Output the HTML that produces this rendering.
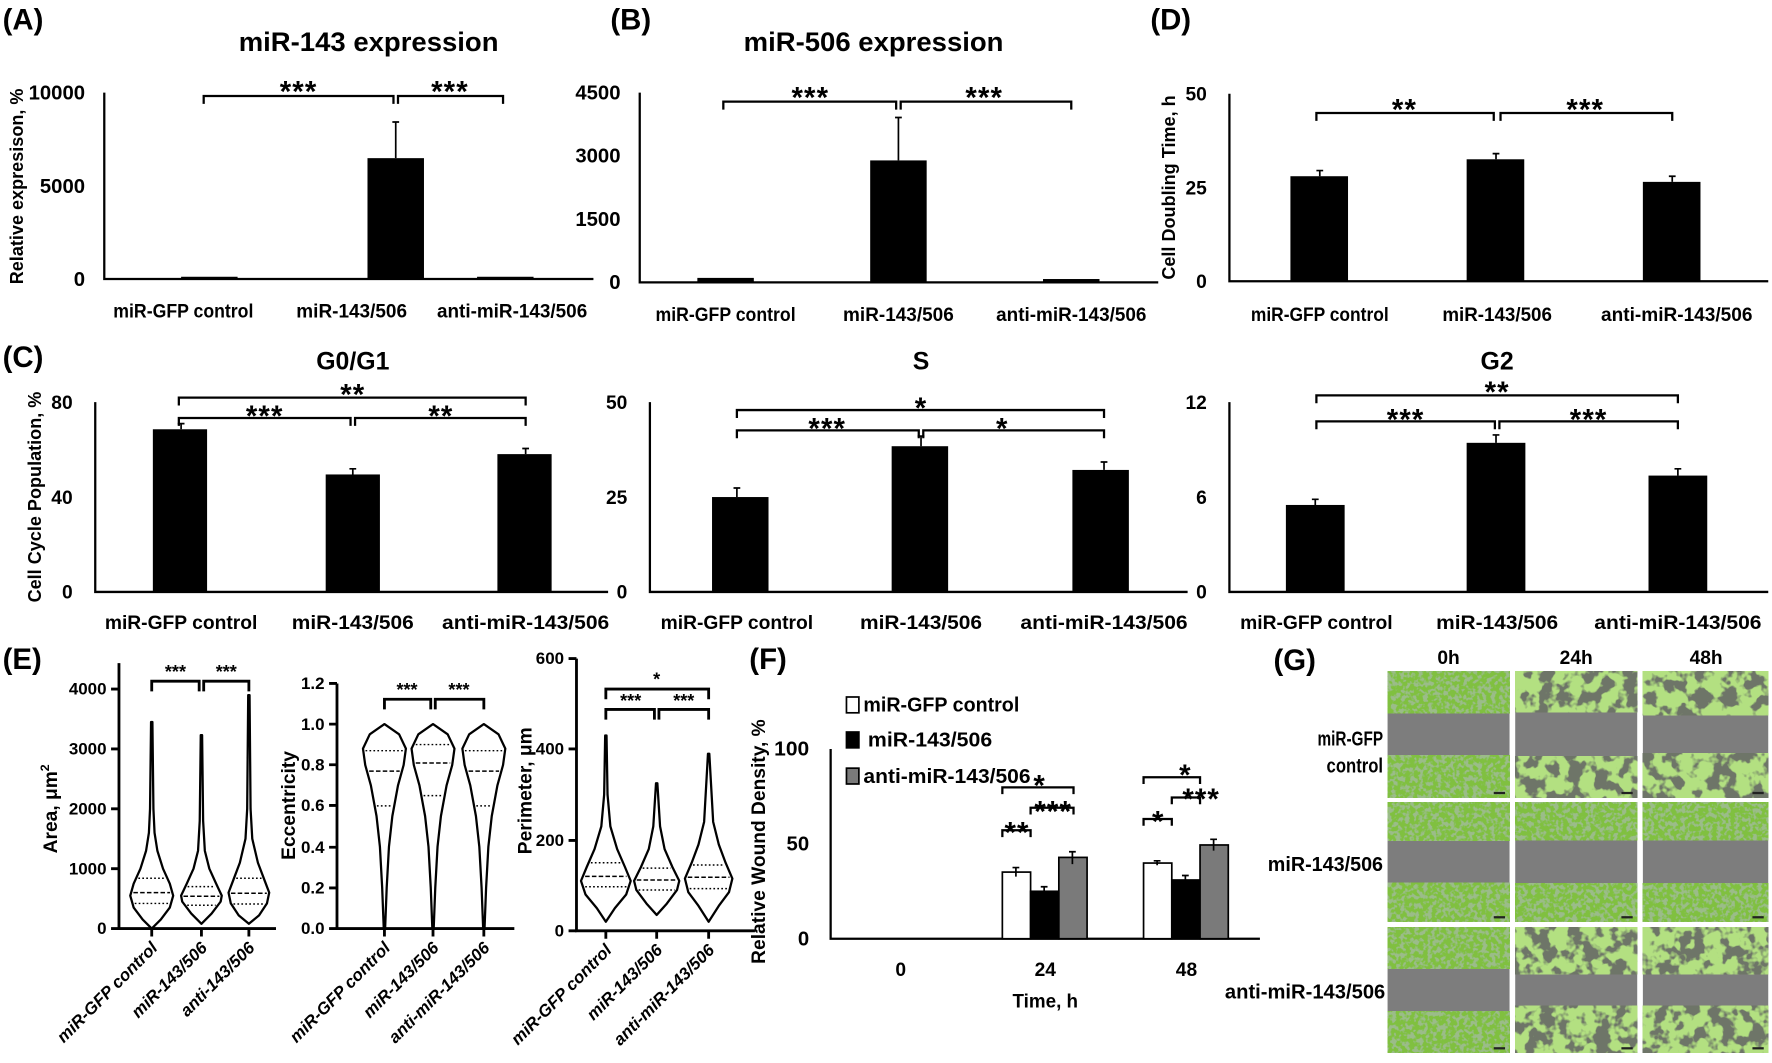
<!DOCTYPE html>
<html><head><meta charset="utf-8">
<style>
html,body{margin:0;padding:0;background:#fff;}
svg{display:block;}
text{font-family:"Liberation Sans",sans-serif;font-weight:bold;fill:#000;}
.it{font-style:italic;}
</style></head><body>
<svg id="s" width="1772" height="1063" viewBox="0 0 1568 941" xmlns="http://www.w3.org/2000/svg">
<defs>
<filter id="cells" x="0" y="0" width="100%" height="100%">
<feTurbulence type="fractalNoise" baseFrequency="0.25" numOctaves="2" seed="4" result="t"/>
<feColorMatrix in="t" type="matrix" values="0 0 0 0 0.33  0 0 0 0 0.5  0 0 0 0 0.25  0 0 0 7 -3.3" result="g"/>
<feFlood flood-color="#80c040" result="b"/>
<feComposite in="g" in2="b" operator="over"/>
</filter>
<filter id="cells2" x="0" y="0" width="100%" height="100%">
<feTurbulence type="fractalNoise" baseFrequency="0.08" numOctaves="3" seed="9" result="t"/>
<feColorMatrix in="t" type="matrix" values="0 0 0 0 0.45  0 0 0 0 0.75  0 0 0 0 0.22  0 0 0 9 -3.8" result="g"/>
<feFlood flood-color="#6e7468" result="b"/>
<feComposite in="g" in2="b" operator="over"/>
</filter>
</defs>
<g stroke="#000" stroke-width="2" fill="none">
<path d="M92 82V247H525"/>
<path d="M180 92V85H348V92M352 92V85H445V92"/>
<path d="M566 82V250H1025"/>
<path d="M640 97V90H793V97M797 97V90H948V97"/>
<path d="M1088 83V249H1565"/>
<path d="M1165 107V100H1322V107M1328 107V100H1480V107"/>
<path d="M84 356V524H538"/>
<path d="M158 359V352H465V359M158 377V370H310V377M314 377V370H465V377"/>
<path d="M575 356V524H1051"/>
<path d="M652 370V363H977V370M652 388V381H813V388M817 388V381H977V388"/>
<path d="M1088 356V524H1565"/>
<path d="M1165 357V350H1485V357M1165 380V373H1323V380M1327 380V373H1485V380"/>
<path d="M735 663V831H1115"/>
<path d="M887 741V735H912V741M912 721V715H950V721M887 703V697H950V703"/>
<path d="M1012 731V725H1037V731M1037 712V706H1062V712M1012 694V688H1062V694"/>
</g>
<g stroke="#000" stroke-width="2.5" fill="none">
<path d="M105 587V822H244"/><path d="M98 610H105M98 663H105M98 716H105M98 769H105M98 822H105"/>
<path d="M134 822V829M178 822V829M220 822V829"/>
<path d="M134 612V603H176V612M180 612V603H220V612"/>
<path d="M298 605V822H455"/><path d="M291 605H298M291 641H298M291 677H298M291 713H298M291 750H298M291 786H298M291 822H298"/>
<path d="M340 822V829M383 822V829M428 822V829"/>
<path d="M340 628V619H381V628M385 628V619H428V628"/>
<path d="M510 583V824H668"/><path d="M503 583H510M503 663H510M503 744H510M503 824H510"/>
<path d="M536 824V831M581 824V831M627 824V831"/>
<path d="M536 619V610H627V619M536 637V628H579V637M583 637V628H627V637"/>
</g>
<g id="vio" stroke="#000" fill="none"></g>
<g fill="#000">
<rect x="160" y="245" width="50" height="2"/><rect x="325" y="140" width="50" height="107"/><rect x="422" y="245" width="50" height="2"/>
<rect x="617" y="246" width="50" height="4"/><rect x="770" y="142" width="50" height="108"/><rect x="923" y="247" width="50" height="3"/>
<rect x="1142" y="156" width="51" height="93"/><rect x="1298" y="141" width="51" height="108"/><rect x="1454" y="161" width="51" height="88"/>
<rect x="135" y="380" width="48" height="144"/><rect x="288" y="420" width="48" height="104"/><rect x="440" y="402" width="48" height="122"/>
<rect x="630" y="440" width="50" height="84"/><rect x="789" y="395" width="50" height="129"/><rect x="949" y="416" width="50" height="108"/>
<rect x="1138" y="447" width="52" height="77"/><rect x="1298" y="392" width="52" height="132"/><rect x="1459" y="421" width="52" height="103"/>
</g>
<g stroke="#000" stroke-width="1.5">
<path d="M350 140V108M347 108H353"/>
<path d="M795 142V104M792 104H798"/>
<path d="M1168 156V151M1324 141V136M1480 161V156M1165 151H1171M1321 136H1327M1477 156H1483"/>
<path d="M160 380V375M312 420V415M465 402V397M157 375H163M309 415H315M462 397H468"/>
<path d="M652 440V432M815 395V386M977 416V409M649 432H655M812 386H818M974 409H980"/>
<path d="M1164 447V442M1324 392V385M1485 421V415M1161 442H1167M1321 385H1327M1482 415H1488"/>
</g>
<g stroke="#000" stroke-width="1.5">
<rect x="887" y="772" width="25" height="59" fill="#fff"/><rect x="912" y="789" width="25" height="42" fill="#000"/><rect x="937" y="759" width="25" height="72" fill="#7a7a7a"/>
<rect x="1012" y="764" width="25" height="67" fill="#fff"/><rect x="1037" y="779" width="25" height="52" fill="#000"/><rect x="1062" y="748" width="25" height="83" fill="#7a7a7a"/>
<path d="M899 768V776M896 768H902M924 785V792M921 785H927M949 754V765M946 754H952M1024 762V766M1021 762H1027M1049 775V783M1046 775H1052M1074 743V753M1071 743H1077"/>
<rect x="749" y="617" width="11" height="14" fill="#fff"/><rect x="749" y="648" width="11" height="14" fill="#000"/><rect x="749" y="680" width="11" height="14" fill="#7a7a7a"/>
</g>
<g id="imgs"></g>
<g font-size="26"><text x="2" y="26">(A)</text><text x="540" y="26">(B)</text><text x="1018" y="26">(D)</text><text x="2" y="325">(C)</text><text x="2" y="592">(E)</text><text x="663" y="592">(F)</text><text x="1127" y="593">(G)</text></g>
<g font-size="24" text-anchor="middle"><text x="326" y="45" textLength="230" lengthAdjust="spacingAndGlyphs">miR-143 expression</text><text x="773" y="45" textLength="230" lengthAdjust="spacingAndGlyphs">miR-506 expression</text></g>
<g font-size="22" text-anchor="middle"><text x="312" y="327">G0/G1</text><text x="815" y="327">S</text><text x="1325" y="327">G2</text></g>
<g font-size="18" text-anchor="end">
<text x="75" y="88" textLength="50" lengthAdjust="spacingAndGlyphs">10000</text><text x="75" y="171" textLength="40" lengthAdjust="spacingAndGlyphs">5000</text><text x="75" y="253">0</text>
<text x="549" y="88" textLength="40" lengthAdjust="spacingAndGlyphs">4500</text><text x="549" y="144" textLength="40" lengthAdjust="spacingAndGlyphs">3000</text><text x="549" y="200" textLength="40" lengthAdjust="spacingAndGlyphs">1500</text><text x="549" y="256">0</text>
<text x="716" y="669" textLength="31" lengthAdjust="spacingAndGlyphs">100</text><text x="716" y="753">50</text><text x="716" y="837">0</text>
</g>
<g font-size="17" text-anchor="end">
<text x="1068" y="89">50</text><text x="1068" y="172">25</text><text x="1068" y="255">0</text>
<text x="64" y="362">80</text><text x="64" y="446">40</text><text x="64" y="530">0</text>
<text x="555" y="362">50</text><text x="555" y="446">25</text><text x="555" y="530">0</text>
<text x="1068" y="362">12</text><text x="1068" y="446">6</text><text x="1068" y="530">0</text>
</g>
<g font-size="15" text-anchor="end">
<text x="94" y="615">4000</text><text x="94" y="668">3000</text><text x="94" y="721">2000</text><text x="94" y="774">1000</text><text x="94" y="827">0</text>
<text x="287" y="610">1.2</text><text x="287" y="646">1.0</text><text x="287" y="682">0.8</text><text x="287" y="718">0.6</text><text x="287" y="755">0.4</text><text x="287" y="791">0.2</text><text x="287" y="827">0.0</text>
<text x="499" y="588">600</text><text x="499" y="668">400</text><text x="499" y="749">200</text><text x="499" y="829">0</text>
</g>
<g font-size="17" text-anchor="middle">
<text x="162" y="281" textLength="124" lengthAdjust="spacingAndGlyphs">miR-GFP control</text><text x="311" y="281" textLength="98" lengthAdjust="spacingAndGlyphs">miR-143/506</text><text x="453" y="281" textLength="133" lengthAdjust="spacingAndGlyphs">anti-miR-143/506</text>
<text x="642" y="284" textLength="124" lengthAdjust="spacingAndGlyphs">miR-GFP control</text><text x="795" y="284" textLength="98" lengthAdjust="spacingAndGlyphs">miR-143/506</text><text x="948" y="284" textLength="133" lengthAdjust="spacingAndGlyphs">anti-miR-143/506</text>
<text x="797" y="864">0</text><text x="925" y="864">24</text><text x="1050" y="864">48</text><text x="925" y="892" textLength="58" lengthAdjust="spacingAndGlyphs">Time, h</text>
<text x="1282" y="588">0h</text><text x="1395" y="588">24h</text><text x="1510" y="588">48h</text>
</g>
<g font-size="18" text-anchor="end">
<text x="1224" y="660" textLength="58" lengthAdjust="spacingAndGlyphs">miR-GFP</text><text x="1224" y="684" textLength="50" lengthAdjust="spacingAndGlyphs">control</text><text x="1224" y="771" textLength="102" lengthAdjust="spacingAndGlyphs">miR-143/506</text><text x="1226" y="884" textLength="142" lengthAdjust="spacingAndGlyphs">anti-miR-143/506</text>
</g>
<g font-size="18"><text x="764" y="630" textLength="138" lengthAdjust="spacingAndGlyphs">miR-GFP control</text><text x="768" y="661" textLength="110" lengthAdjust="spacingAndGlyphs">miR-143/506</text><text x="764" y="693" textLength="148" lengthAdjust="spacingAndGlyphs">anti-miR-143/506</text></g>
<g font-size="17" text-anchor="middle">
<text x="1168" y="284" textLength="122" lengthAdjust="spacingAndGlyphs">miR-GFP control</text><text x="1325" y="284" textLength="97" lengthAdjust="spacingAndGlyphs">miR-143/506</text><text x="1484" y="284" textLength="134" lengthAdjust="spacingAndGlyphs">anti-miR-143/506</text>
<text x="160" y="557" textLength="135" lengthAdjust="spacingAndGlyphs">miR-GFP control</text><text x="312" y="557" textLength="108" lengthAdjust="spacingAndGlyphs">miR-143/506</text><text x="465" y="557" textLength="148" lengthAdjust="spacingAndGlyphs">anti-miR-143/506</text>
<text x="652" y="557" textLength="135" lengthAdjust="spacingAndGlyphs">miR-GFP control</text><text x="815" y="557" textLength="108" lengthAdjust="spacingAndGlyphs">miR-143/506</text><text x="977" y="557" textLength="148" lengthAdjust="spacingAndGlyphs">anti-miR-143/506</text>
<text x="1165" y="557" textLength="135" lengthAdjust="spacingAndGlyphs">miR-GFP control</text><text x="1325" y="557" textLength="108" lengthAdjust="spacingAndGlyphs">miR-143/506</text><text x="1485" y="557" textLength="148" lengthAdjust="spacingAndGlyphs">anti-miR-143/506</text>
</g>
<g font-size="26" text-anchor="middle" letter-spacing="1">
<text x="264" y="90">***</text><text x="398" y="90">***</text>
<text x="717" y="95">***</text><text x="871" y="95">***</text>
<text x="1243" y="106">**</text><text x="1403" y="106">***</text>
<text x="312" y="358">**</text><text x="234" y="377">***</text><text x="390" y="377">**</text>
<text x="815" y="370">*</text><text x="732" y="388">***</text><text x="887" y="388">*</text>
<text x="1325" y="356">**</text><text x="1244" y="380">***</text><text x="1406" y="380">***</text>
<text x="920" y="704">*</text><text x="932" y="727">***</text><text x="900" y="746">**</text>
<text x="1049" y="695">*</text><text x="1063" y="716">***</text><text x="1025" y="736">*</text>
</g>
<g font-size="16" text-anchor="middle">
<text x="155" y="600">***</text><text x="200" y="600">***</text>
<text x="360" y="616">***</text><text x="406" y="616">***</text>
<text x="581" y="607">*</text><text x="558" y="626">***</text><text x="605" y="626">***</text>
</g>
<g font-size="16" text-anchor="middle">
<text transform="translate(20,165) rotate(-90)">Relative expresison, %</text>
<text transform="translate(1040,166) rotate(-90)">Cell Doubling Time, h</text>
<text transform="translate(36,440) rotate(-90)">Cell Cycle Population, %</text>
<text transform="translate(677,745) rotate(-90)" font-size="17">Relative Wound Density, %</text>
</g>
<g font-size="17" text-anchor="middle">
<text transform="translate(50,716) rotate(-90)">Area, μm<tspan dy="-7" font-size="11">2</tspan></text>
<text transform="translate(261,713) rotate(-90)">Eccentricity</text>
<text transform="translate(470,700) rotate(-90)">Perimeter, μm</text>
</g>
<g font-size="15" class="it" text-anchor="end">
<text transform="translate(140,840) rotate(-45)">miR-GFP control</text>
<text transform="translate(184,840) rotate(-45)">miR-143/506</text>
<text transform="translate(226,840) rotate(-45)">anti-143/506</text>
<text transform="translate(346,840) rotate(-45)">miR-GFP control</text>
<text transform="translate(389,840) rotate(-45)">miR-143/506</text>
<text transform="translate(434,840) rotate(-45)">anti-miR-143/506</text>
<text transform="translate(542,842) rotate(-45)">miR-GFP control</text>
<text transform="translate(587,842) rotate(-45)">miR-143/506</text>
<text transform="translate(633,842) rotate(-45)">anti-miR-143/506</text>
</g>
</svg>
<script>
(function(){
var NS="http://www.w3.org/2000/svg",g=document.getElementById('vio');
function el(n,a){var e=document.createElementNS(NS,n);for(var k in a)e.setAttribute(k,a[k]);return e;}
function vio(cx,pts,fy,q){
 var L=[],R=[];
 pts.forEach(function(p){R.push((cx+p[1])+' '+fy(p[0]));});
 pts.slice().reverse().forEach(function(p){L.push((cx-p[1])+' '+fy(p[0]));});
 g.appendChild(el('path',{d:'M'+R.join(' L')+' L'+L.join(' L')+'Z','stroke-width':2,'stroke-linejoin':'round'}));
 function wAt(v){for(var i=0;i<pts.length-1;i++){if(v>=pts[i][0]&&v<=pts[i+1][0]){var t=(v-pts[i][0])/(pts[i+1][0]-pts[i][0]);return pts[i][1]+t*(pts[i+1][1]-pts[i][1]);}}return 0;}
 q.forEach(function(v,i){var w=wAt(v)-2;g.appendChild(el('line',{x1:cx-w,x2:cx+w,y1:fy(v),y2:fy(v),'stroke-width':1.3,'stroke-dasharray':i==1?'4 2':'1.5 2'}));});
}
var fa=function(v){return 822-v*0.053;};
vio(134,[[0,0],[150,8],[350,16],[550,19],[750,16],[1000,10],[1300,5],[1600,2.5],[2000,1.5],[3450,0.6]],fa,[420,600,840]);
vio(178,[[80,0],[250,9],[450,17],[550,18],[750,13],[1000,7],[1300,3],[1800,1.5],[3230,0.6]],fa,[390,540,700]);
vio(220,[[80,0],[220,9],[420,16],[600,18],[800,14],[1100,8],[1500,3],[2000,1.5],[3900,0.6]],fa,[410,590,840]);
var fe=function(v){return 822-v*181;};
var pe=[[0,0.6],[0.2,2],[0.4,4],[0.55,7],[0.7,12],[0.8,17],[0.88,19],[0.95,13],[1.0,0]];
vio(340,pe,fe,[0.6,0.77,0.87]);vio(383,pe,fe,[0.65,0.81,0.9]);vio(428,pe,fe,[0.6,0.77,0.87]);
var fp=function(v){return 824-v*0.402;};
vio(536,[[20,0],[50,8],[80,18],[110,22],[140,17],[180,10],[230,4],[300,1.5],[430,0.6]],fp,[97,120,150]);
vio(581,[[35,0],[60,9],[90,18],[110,20],[140,14],[180,7],[230,3],[325,0.6]],fp,[90,112,138]);
vio(627,[[20,0],[55,9],[85,18],[115,21],[150,15],[190,9],[240,4],[390,0.6]],fp,[93,118,145]);
var im=document.getElementById('imgs');
var xs=[1228,1341,1454],ys=[594,710,821],ws=[108,108,111],hs=[112,106,111];
var gap=[[0.33,0.35,0.3],[0.35,0.36,0.36],[0.34,0.25,0.25]];
for(var r=0;r<3;r++)for(var c=0;c<3;c++){
 var x=xs[c],y=ys[r],w=ws[c],h=hs[r],gp=gap[r][c];
 im.appendChild(el('rect',{x:x,y:y,width:w,height:h,fill:'#7d7d7d'}));
 var f=(c>0&&r!=1)?'url(#cells2)':'url(#cells)';
 var gh=h*(1-gp)/2;
 im.appendChild(el('rect',{x:x,y:y,width:w,height:gh,filter:f}));
 im.appendChild(el('rect',{x:x,y:y+h-gh,width:w,height:gh,filter:f}));
 im.appendChild(el('rect',{x:x+w-14,y:y+h-5,width:10,height:2,fill:'#222'}));
}
})();
</script>
</body></html>
